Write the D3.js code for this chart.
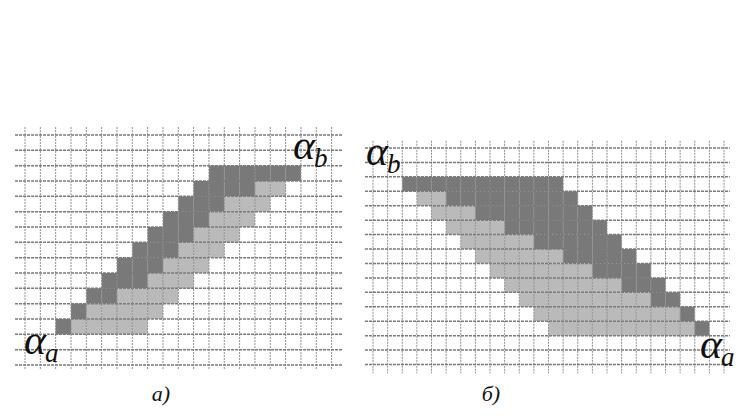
<!DOCTYPE html>
<html><head><meta charset="utf-8">
<script src="https://cdn.jsdelivr.net/npm/d3@7"></script>
<style>body{margin:0;background:#fff}svg{display:block}</style>
</head><body>
<script>
// ---- data (grid units: column index of cell left edge, row index of top edge) ----
const leftRows   = [2,3,4,5,6,7,8,9,10,11,12];
const leftDark   = [[12,17],[11,14],[10,12],[9,11],[8,10],[7,9],[6,8],[5,7],[4,5],[3,3],[2,2]];
const leftLight  = [null,[15,16],[13,15],[12,14],[11,13],[10,12],[9,11],[8,10],[6,9],[4,8],[3,7]];
const rightRows  = [2,3,4,5,6,7,8,9,10,11,12];
const rightDark  = [[2,12],[5,13],[7,14],[9,15],[11,16],[13,17],[15,18],[17,19],[19,20],[21,21],[22,22]];
const rightLight = [null,[3,4],[4,6],[5,8],[6,10],[7,12],[8,14],[9,16],[10,18],[11,20],[12,21]];
const captions   = ["а)", "б)"];

const W = 741, H = 416;
const svg = d3.select("body").append("svg").attr("width", W).attr("height", H);

const DARK = "#797979", LIGHT = "#bababa";

function panel(cfg) {
  const x = d3.scaleLinear().domain([0, cfg.nx]).range(cfg.xr);
  const y = d3.scaleLinear().domain([0, cfg.ny]).range(cfg.yr);
  const g = svg.append("g");
  const cells = [];
  cfg.rows.forEach((r, i) => {
    const L = cfg.light[i], D = cfg.dark[i];
    if (L) for (let c = L[0]; c <= L[1]; c++) cells.push({r, c, t: "l"});
    if (D) for (let c = D[0]; c <= D[1]; c++) cells.push({r, c, t: "d"});
  });
  g.selectAll("rect.cell").data(cells).join("rect")
    .attr("x", d => x(d.c)).attr("y", d => y(d.r))
    .attr("width", d => x(d.c + 1) - x(d.c)).attr("height", d => y(d.r + 1) - y(d.r))
    .attr("fill", d => d.t === "d" ? DARK : LIGHT);
  const [bx0, bx1] = cfg.bx, [by0, by1] = cfg.by;
  g.selectAll("line.v").data(d3.range(0, cfg.nx + 1)).join("line")
    .attr("x1", d => x(d)).attr("x2", d => x(d))
    .attr("y1", y(by0)).attr("y2", y(by1))
    .attr("stroke", "#8f8f8f").attr("stroke-width", 1)
    .attr("stroke-dasharray", "2,1");
  g.selectAll("line.h").data(d3.range(0, cfg.ny + 1)).join("line")
    .attr("x1", x(bx0)).attr("x2", x(bx1))
    .attr("y1", d => y(d)).attr("y2", d => y(d))
    .attr("stroke", "#7a7a7a").attr("stroke-width", 1.5)
    .attr("stroke-dasharray", "3,1");
  return {x, y, g};
}

panel({nx: 20, ny: 15, xr: [25, 331.6], yr: [135, 365],
  bx: [-0.65, 20.7], by: [-0.52, 15.33],
  rows: leftRows, dark: leftDark, light: leftLight});
panel({nx: 24, ny: 15, xr: [373, 724], yr: [148, 364.5],
  bx: [-0.55, 24.4], by: [-0.5, 15.6],
  rows: rightRows, dark: rightDark, light: rightLight});

function alpha(px, py, sub) {
  const t = svg.append("text").attr("x", px).attr("y", py)
    .attr("font-family", "'Liberation Serif', 'DejaVu Serif', serif").attr("fill", "#111");
  t.append("tspan").attr("font-size", 42).attr("font-style", "italic").text("α");
  t.append("tspan").attr("font-size", 27).attr("font-style", "italic").attr("dy", 8).attr("dx", -1).text(sub);
}
alpha(293, 159, "b");
alpha(24, 354, "a");
alpha(366, 165, "b");
alpha(700, 358, "a");

captions.forEach((c, i) => {
  svg.append("text").attr("x", [161, 491][i]).attr("y", 401).attr("text-anchor", "middle")
    .attr("font-family", "'Liberation Serif', serif").attr("font-style", "italic")
    .attr("font-size", 22).attr("fill", "#111").text(c);
});
</script>
</body></html>
